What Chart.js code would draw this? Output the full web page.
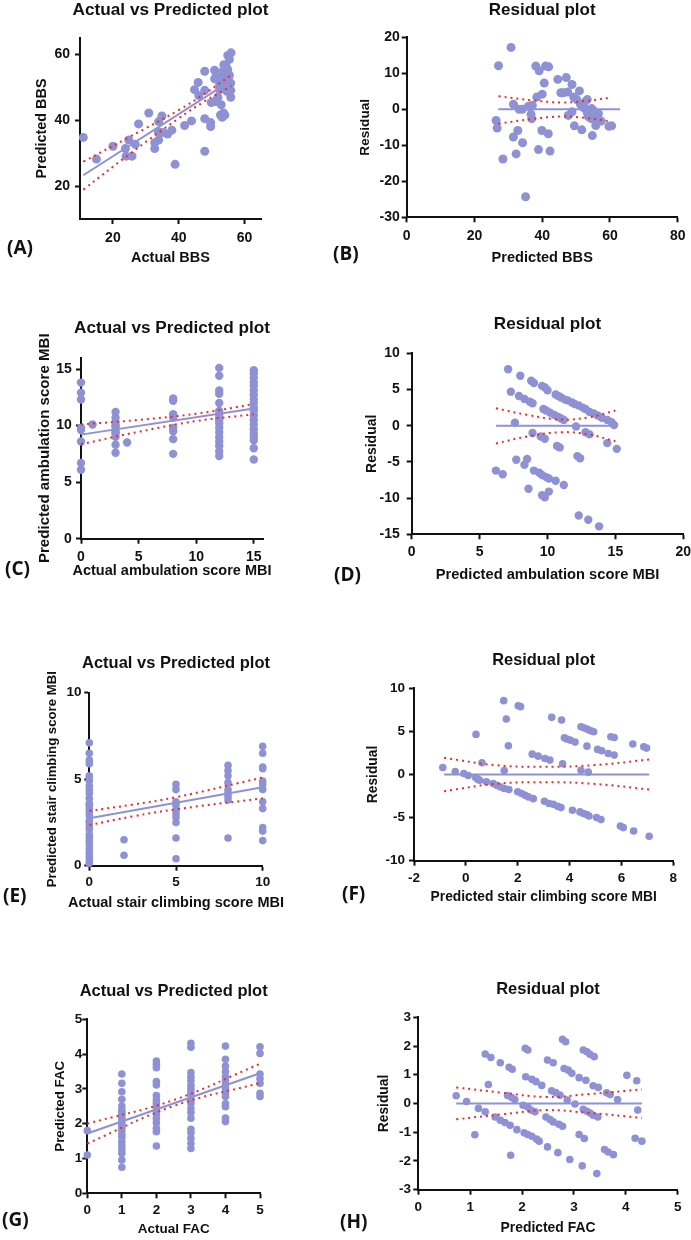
<!DOCTYPE html>
<html>
<head>
<meta charset="utf-8">
<script src="https://cdn.jsdelivr.net/npm/chart.js@4.4.0/dist/chart.umd.min.js"></script>
<style>
html, body { margin: 0; padding: 0; background: #fff; overflow: hidden; }
body { position: relative; width: 691px; height: 1240px; }
canvas { position: absolute; }
.lbl { position: absolute; font: 700 19px 'Open Sans', sans-serif; color: #111; line-height: 20px; white-space: nowrap; }
</style>
</head>
<body>
<canvas id="cA"></canvas>
<canvas id="cB"></canvas>
<canvas id="cC"></canvas>
<canvas id="cD"></canvas>
<canvas id="cE"></canvas>
<canvas id="cF"></canvas>
<canvas id="cG"></canvas>
<canvas id="cH"></canvas>
<div class="lbl" style="left:7px;top:237px">(A)</div>
<div class="lbl" style="left:333px;top:243px">(B)</div>
<div class="lbl" style="left:5px;top:558px">(C)</div>
<div class="lbl" style="left:334px;top:564px">(D)</div>
<div class="lbl" style="left:3px;top:885px">(E)</div>
<div class="lbl" style="left:342px;top:883px">(F)</div>
<div class="lbl" style="left:2px;top:1209px">(G)</div>
<div class="lbl" style="left:340px;top:1211px">(H)</div>
<script>
// ---- (A) actual vs predicted BBS ----
const bbsPoints = [
  [11, 34.8], [15, 28.2], [20, 32.1], [23.8, 31.4], [24, 29.1], [24.8, 34], [25.8, 29.1], [26.8, 32.7],
  [27.8, 38.9], [30.9, 42.2], [32.7, 33.2], [32.7, 31.4], [33.9, 34], [33.9, 39.6], [34.9, 41.3],
  [33.8, 36.5], [35.1, 36.3], [36.6, 35.8], [37.9, 37], [38.9, 26.6], [41.8, 38.4], [43.9, 39.8],
  [44.8, 49.3], [45.9, 51.5], [46.1, 47.5], [47.9, 54.9], [47.9, 49.1], [47.9, 40.5], [47.9, 30.6],
  [49.7, 39.3], [49.7, 38.1], [49.9, 45.4], [50.9, 55.2], [50.9, 52.6], [51.2, 45.7], [51.6, 46.2],
  [51.9, 47], [52.4, 50.8], [52.7, 41.6], [53.2, 40.9], [52.9, 44.7], [53.6, 42.2], [54, 41.6],
  [52.9, 52.9], [53.4, 54.9], [53.7, 56.9], [54.4, 56.4], [53.9, 49.8], [54.2, 51.8], [54.9, 55.4],
  [54.9, 59.7], [55.9, 60.5], [55.4, 53.6], [55.8, 51.3], [55.8, 49.1], [55.8, 47], [55.2, 50.5],
  [54.6, 48.8], [52.4, 49.3], [51.4, 53.4], [55.4, 58.5], [54.6, 53.2], [53.2, 51.5]
];
const bbsFitX = [11, 56];
const bbsFitY = [23.3, 52.1];
const bbsCiX = [11, 25, 40, 48, 56];
const bbsCiUpper = [27.4, 34.9, 43.1, 48.15, 53.8];
const bbsCiLower = [18.9, 29.7, 40.6, 45.85, 50.4];

// ---- (B) residuals BBS ----
const bbsResiduals = [
  [27.1, 12.1], [30.8, 17.2], [26.4, -3.1], [26.7, -5.2], [28.4, -13.8], [31.5, 1.4], [31.5, -7.7],
  [32.8, -5.9], [32.3, -12.4], [33.2, 0], [34.1, 0], [34.2, -9.3], [35.1, -24.3], [35.9, 0.8],
  [36.7, -1.4], [36.9, -2.6], [37.1, 1.1], [38.4, 3.4], [38.1, 12], [39.1, 10.7], [38.9, -11.2],
  [40, 4.2], [39.9, -5.9], [40.6, 7.3], [41, 12], [41.9, 11.8], [41.8, -6.8], [42.3, -11.6],
  [44.6, 8.3], [45.5, 4.6], [46.2, 4.6], [47.1, 8.8], [47.5, 4.8], [47.7, -1.7], [48.8, 6.9],
  [48.8, -0.7], [49.3, 3.4], [49.5, -4.6], [50.2, 2.7], [51, 5.1], [51.3, 1.4], [51.7, -5.7],
  [52.2, 0.5], [52.6, 2], [53.1, -0.3], [53.3, 2.7], [53.6, -2], [54.2, -0.7], [54.6, 0.2],
  [55.1, -0.3], [54.8, -7.3], [55.4, -1.7], [55.8, -2.6], [55.8, -4.5], [56.4, -2], [56.6, -3.1],
  [57.4, -3.3], [54.4, -2.6], [56.6, -1.2], [59.7, -4.7], [60.5, -4.6], [53.4, -1.2]
];
const bbsResFitX = [27, 63];
const bbsResFitY = [0, 0];
const bbsResCiX = [27.1, 36.9, 45.8, 52.6, 60.5];
const bbsResCiUpper = [3.6, 2.5, 1.9, 2.3, 3.3];
const bbsResCiLower = [-4, -2.7, -2.0, -2.4, -3.4];

// ---- (C) actual vs predicted ambulation score MBI ----
const ambActual = [0, 1, 3, 4, 8, 12, 15];
const ambPredicted = [
  [13.8, 12.9, 12.3, 9.8, 9.6, 8.6, 6.7, 6.1],
  [10.1],
  [11.2, 10.7, 10.3, 10.0, 9.9, 9.6, 9.4, 9.3, 9.0, 8.3, 7.6],
  [8.5],
  [12.4, 12.2, 11.0, 10.7, 9.8, 9.5, 8.8, 7.5],
  [15.1, 14.4, 13.1, 12.8, 12.0, 11.3, 11.0, 10.7, 10.5, 10.2, 9.8, 9.4, 9.0, 8.6, 8.2, 7.7, 7.3],
  [14.9, 14.6, 14.2, 13.8, 13.5, 13.1, 12.7, 12.3, 12.0, 11.6, 11.3, 10.9, 10.5, 10.1, 9.7, 9.3, 9.0, 8.7, 8.0, 7.0]
];
const ambFitX = [0, 15];
const ambFitY = [9.2, 11.5];
const ambCiX = [0, 5, 10, 15];
const ambCiUpper = [10.1, 10.5, 11.05, 11.9];
const ambCiLower = [8.35, 9.45, 10.4, 11.0];

// ---- (D) residuals ambulation ----
const ambResiduals = [
  [7.1, 7.8], [8.0, 6.9], [8.8, 6.2], [9.0, 5.9], [9.6, 5.5], [9.8, 5.3], [10.0, 4.9], [10.6, 4.3],
  [10.8, 4.1], [11.0, 3.9], [11.3, 3.6], [11.5, 3.5], [11.8, 3.2], [12.0, 3.0], [12.3, 2.8], [12.6, 2.5],
  [12.8, 2.3], [13.1, 1.9], [13.4, 1.7], [13.7, 1.4], [14.0, 1.1], [14.4, 0.8], [14.7, 0.5], [14.9, 0.1],
  [7.3, 4.7], [7.9, 4.1], [8.3, 3.7], [8.7, 3.3], [8.9, 3.1], [9.7, 2.3], [9.9, 2.1], [10.2, 1.8],
  [10.5, 1.5], [10.8, 1.2], [11.0, 1.0], [11.2, 0.8],
  [7.6, 0.4], [12.1, -0.1], [12.8, -0.9], [13.1, -1.2],
  [8.9, -1.0], [9.5, -1.5], [9.8, -1.8], [10.7, -2.8], [10.9, -3.0], [12.2, -4.2], [12.4, -4.5],
  [14.4, -2.4], [15.1, -3.2],
  [6.2, -6.2], [6.7, -6.7], [7.7, -4.7], [8.3, -5.4], [8.5, -4.6], [9.0, -6.2], [9.4, -6.5], [9.6, -6.8],
  [9.9, -7.1], [10.1, -7.3], [10.6, -7.6], [11.2, -8.2], [8.6, -8.7], [9.6, -9.6], [9.8, -9.9], [10.1, -9.1],
  [12.3, -12.4], [13.0, -13.0], [13.8, -13.9]
];
const ambResFitX = [6.2, 15.1];
const ambResFitY = [0, 0];
const ambResCiX = [6.2, 8.5, 11, 13, 15];
const ambResCiUpper = [2.4, 1.5, 0.85, 1.15, 2.1];
const ambResCiLower = [-2.45, -1.5, -0.9, -1.2, -2.15];

// ---- (E) actual vs predicted stair climbing score MBI ----
const stairActual = [0, 2, 5, 8, 10];
const stairPredicted = [
  [7.1, 6.5, 6.1, 5.9, 5.2, 5.1, 4.9, 4.6, 4.4, 4.2, 3.9, 3.6, 3.5, 3.3, 3.1, 2.9, 2.6, 2.5, 2.3, 2.1,
   1.8, 1.6, 1.4, 1.2, 0.95, 0.7, 0.5, 0.3, 0.14],
  [1.5, 0.6],
  [4.7, 4.4, 3.7, 3.5, 3.2, 3.0, 2.8, 2.5, 1.6, 0.4],
  [5.8, 5.5, 5.2, 4.8, 4.4, 4.2, 4.0, 3.8, 1.6],
  [6.9, 6.5, 5.7, 5.6, 4.9, 4.7, 4.4, 3.7, 3.3, 2.2, 2.0, 1.45]
];
const stairFitX = [0, 10];
const stairFitY = [2.74, 4.54];
const stairCiX = [0, 2.5, 5, 10];
const stairCiUpper = [3.17, 3.53, 3.96, 5.1];
const stairCiLower = [2.35, 2.85, 3.26, 3.9];

// ---- (F) residuals stair climbing ----
const stairResiduals = [
  [-0.89, 0.81], [-0.41, 0.35], [-0.08, 0.12], [0.09, -0.12], [0.38, -0.35], [0.45, -0.54], [0.53, -0.66],
  [0.39, 4.65], [0.62, 1.36], [0.79, -0.85], [1.05, -1.05], [1.19, -1.24], [1.32, -1.43], [1.48, -1.63],
  [1.46, 8.57], [1.48, 0.47], [1.56, 6.43], [1.64, 3.33], [1.66, -1.74], [2.0, -2.0], [2.02, 7.98],
  [2.11, 7.87], [2.15, -2.2], [2.28, -2.4], [2.41, -2.6], [2.56, 2.36], [2.6, -2.8], [2.79, 2.13],
  [3.03, -3.1], [3.05, 1.86], [3.21, -3.37], [3.24, 1.67], [3.31, 6.63], [3.37, -3.45], [3.54, -3.68],
  [3.67, -3.84], [3.69, 6.32], [3.73, 1.24], [3.8, 4.26], [3.89, 4.11], [4.02, 3.99], [4.21, 3.76],
  [4.11, -4.15], [4.4, -4.34], [4.53, -4.53], [4.66, -4.65], [4.75, -4.81], [4.44, 5.54], [4.57, 5.39],
  [4.7, 5.23], [4.82, 5.08], [4.93, 4.96], [4.44, 0.5], [4.72, 0.27], [4.67, 3.29], [5.08, 2.91],
  [5.24, 2.75], [5.49, 2.44], [5.72, 2.25], [5.04, -5.0], [5.21, -5.23], [5.59, 4.38], [5.72, 4.3],
  [5.96, -5.97], [6.07, -6.16], [6.47, -6.55], [6.44, 3.53], [6.86, 3.22], [6.97, 3.06], [7.07, -7.17]
];
const stairResFitX = [-0.84, 7.07];
const stairResFitY = [0, 0];
const stairResCiX = [-0.84, 1.12, 3.05, 4.98, 7.07];
const stairResCiUpper = [1.94, 1.09, 0.89, 1.09, 1.74];
const stairResCiLower = [-1.94, -1.09, -0.89, -1.09, -1.74];

// ---- (G) actual vs predicted FAC ----
const facActual = [0, 1, 2, 3, 4, 5];
const facPredicted = [
  [1.8, 1.1],
  [3.43, 3.16, 2.92, 2.7, 2.51, 2.39, 2.32, 2.24, 2.16, 2.06, 1.97, 1.9, 1.82, 1.7, 1.61, 1.48, 1.36,
   1.25, 1.15, 0.96, 0.75],
  [3.8, 3.7, 3.61, 3.21, 3.11, 2.81, 2.68, 2.59, 2.49, 2.39, 2.28, 2.16, 2.03, 1.87, 1.77, 1.36],
  [4.31, 4.2, 3.47, 3.35, 3.24, 3.11, 3.02, 2.92, 2.83, 2.7, 2.59, 2.44, 2.32, 2.16, 1.84, 1.74, 1.58, 1.44, 1.29],
  [4.23, 3.85, 3.66, 3.5, 3.35, 3.24, 3.13, 3.02, 2.89, 2.78, 2.57, 2.49, 2.16, 2.06],
  [4.21, 4.02, 3.43, 3.3, 3.16, 2.87, 2.78]
];
const facFitX = [0, 5];
const facFitY = [1.72, 3.45];
const facCiX = [0, 2.5, 5];
const facCiUpper = [2.0, 2.68, 3.72];
const facCiLower = [1.43, 2.51, 3.17];

// ---- (H) residuals FAC ----
const facResiduals = [
  [0.73, 0.27], [0.93, 0.07], [1.09, -1.09], [1.16, -0.17], [1.29, 1.72], [1.29, -0.29], [1.35, 0.66],
  [1.4, 1.6], [1.48, -0.47], [1.58, 1.42], [1.58, -0.58], [1.67, -0.66], [1.72, 0.28], [1.75, 1.26],
  [1.77, -0.76], [1.78, -1.8], [1.8, 0.21], [1.81, 1.19], [1.86, 0.14], [1.9, -0.91], [2.02, -0.06],
  [2.06, 1.92], [2.11, 1.86], [2.07, 0.93], [2.04, -1.02], [2.11, -0.12], [2.11, -1.08], [2.19, 0.84],
  [2.17, -0.23], [2.19, -1.14], [2.25, -0.29], [2.27, 0.76], [2.28, -1.24], [2.33, -1.31], [2.38, 0.63],
  [2.46, -0.47], [2.49, 1.51], [2.49, -1.51], [2.54, -0.56], [2.57, 0.44], [2.6, 1.42], [2.6, -0.64],
  [2.65, 0.38], [2.69, -1.71], [2.71, -0.72], [2.73, 0.29], [2.78, 2.23], [2.78, -0.79], [2.84, 2.15],
  [2.81, 1.22], [2.87, 0.12], [2.89, 1.16], [2.92, -1.95], [2.96, 1.05], [3.02, -0.02], [3.1, 0.9],
  [3.1, -1.08], [3.18, 1.86], [3.16, -2.17], [3.2, -1.22], [3.18, -0.2], [3.25, 1.8], [3.23, 0.81],
  [3.25, -0.27], [3.31, 1.71], [3.31, -0.33], [3.37, -0.41], [3.37, 0.62], [3.39, 1.63], [3.44, -2.44],
  [3.46, -0.47], [3.47, 0.56], [3.63, 0.37], [3.59, -1.6], [3.7, 0.31], [3.66, -1.69], [3.76, -1.78],
  [3.84, 0.14], [4.02, 0.98], [4.18, -1.21], [4.21, 0.79], [4.23, -0.23], [4.31, -1.31]
];
const facResFitX = [0.73, 4.31];
const facResFitY = [0, 0];
const facResCiX = [0.73, 1.6, 2.45, 3.3, 4.31];
const facResCiUpper = [0.56, 0.38, 0.23, 0.33, 0.49];
const facResCiLower = [-0.55, -0.38, -0.23, -0.33, -0.5];

const FONT = "'Liberation Sans', Arial, sans-serif";
const DOT_COLOR = '#8e92d5';
const CI_COLOR = '#ee2a2a';
const INK = '#111';

function columnsToPoints(xs, cols) {
    const pts = [];
    xs.forEach((x, i) => cols[i].forEach(y => pts.push({ x: x, y: y })));
    return pts;
}
function pairsToPoints(pairs) {
    return pairs.map(p => ({ x: p[0], y: p[1] }));
}
function zipPoints(xs, ys) {
    return xs.map((x, i) => ({ x: x, y: ys[i] }));
}

// plot title and x-axis title, centred on the plot area and never squeezed
const panelText = {
    id: 'panelText',
    afterDraw(chart, args, opts) {
        const { ctx, chartArea } = chart;
        const mid = (chartArea.left + chartArea.right) / 2;
        ctx.save();
        ctx.fillStyle = INK;
        ctx.textAlign = 'center';
        ctx.textBaseline = 'middle';
        ctx.font = 'bold ' + opts.titleSize + 'px ' + FONT;
        ctx.fillText(opts.title, mid, opts.titleY);
        ctx.font = 'bold ' + opts.xSize + 'px ' + FONT;
        ctx.fillText(opts.xTitle, mid, opts.xTitleY);
        ctx.restore();
    }
};

function drawPanel(id, geo, axes, text, points, fit, ci) {
    const [cx, cy, cw, ch] = geo.box;
    const [L, T, R, B] = geo.area;
    const [titleSize, xSize, ySize, tickSize] = geo.fs;
    const canvas = document.getElementById(id);
    canvas.width = cw;
    canvas.height = ch;
    canvas.style.left = cx + 'px';
    canvas.style.top = cy + 'px';

    const yW = L - cx;
    const xH = geo.xTitleY + xSize * 0.6 - B;
    const tickFont = { family: FONT, size: tickSize, weight: 'bold' };
    const tickGrid = { drawOnChartArea: false, drawTicks: true, tickLength: 5, tickWidth: 2, tickColor: INK };

    new Chart(canvas.getContext('2d'), {
        type: 'scatter',
        data: {
            datasets: [
                {
                    data: zipPoints(ci.x, ci.upper), showLine: true, pointRadius: 0,
                    borderColor: CI_COLOR, borderWidth: 2, borderDash: [2, 4], tension: 0.4, clip: false
                },
                {
                    data: zipPoints(ci.x, ci.lower), showLine: true, pointRadius: 0,
                    borderColor: CI_COLOR, borderWidth: 2, borderDash: [2, 4], tension: 0.4, clip: false
                },
                {
                    data: zipPoints(fit.x, fit.y), showLine: true, pointRadius: 0,
                    borderColor: DOT_COLOR, borderWidth: 2, clip: false
                },
                {
                    data: points, pointRadius: geo.r, pointBackgroundColor: DOT_COLOR,
                    pointBorderWidth: 0, borderColor: DOT_COLOR, clip: false
                }
            ]
        },
        plugins: [panelText],
        options: {
            responsive: false,
            animation: false,
            events: [],
            layout: { padding: { left: 0, top: T - cy, right: cx + cw - R, bottom: cy + ch - B - xH } },
            plugins: {
                legend: { display: false },
                tooltip: { enabled: false },
                panelText: {
                    title: text.title, titleSize: titleSize, titleY: geo.titleY - cy,
                    xTitle: text.x, xSize: xSize, xTitleY: geo.xTitleY - cy
                }
            },
            scales: {
                x: {
                    type: 'linear', min: axes.xMin, max: axes.xMax,
                    afterBuildTicks: s => { s.ticks = axes.xTicks.map(v => ({ value: v })); },
                    afterFit: s => { s.height = xH; },
                    grid: tickGrid,
                    border: { display: true, color: INK, width: 2 },
                    ticks: {
                        color: INK, autoSkip: false, maxRotation: 0, font: tickFont,
                        padding: geo.xTickY - B - 5 - tickSize * 0.6
                    },
                    title: { display: false }
                },
                y: {
                    type: 'linear', min: axes.yMin, max: axes.yMax,
                    afterBuildTicks: s => { s.ticks = axes.yTicks.map(v => ({ value: v })); },
                    afterFit: s => { s.width = yW; },
                    grid: tickGrid,
                    border: { display: true, color: INK, width: 2 },
                    ticks: { color: INK, autoSkip: false, font: tickFont, padding: Math.max(geo.yGap - 5, 0) },
                    title: {
                        display: true, text: text.y, color: INK,
                        font: { family: FONT, size: ySize, weight: 'bold' },
                        padding: { top: geo.yTitleX - cx - ySize * 0.6, bottom: 0 }
                    }
                }
            }
        }
    });
}

drawPanel('cA',
    { box: [0, 0, 345, 280], area: [80, 38, 261, 219], titleY: 10.5, xTickY: 238.3, xTitleY: 258.3, yTitleX: 42, yGap: 10, r: 4.5, fs: [17.2, 14.5, 14.4, 14] },
    { xMin: 10, xMax: 65, xTicks: [20, 40, 60], yMin: 10, yMax: 65, yTicks: [20, 40, 60] },
    { title: 'Actual vs Predicted plot', x: 'Actual BBS', y: 'Predicted BBS' },
    pairsToPoints(bbsPoints),
    { x: bbsFitX, y: bbsFitY },
    { x: bbsCiX, upper: bbsCiUpper, lower: bbsCiLower });

drawPanel('cB',
    { box: [345, 0, 360, 280], area: [406.7, 37.3, 677.7, 217.3], titleY: 10.3, xTickY: 235.7, xTitleY: 257.7, yTitleX: 365.7, yGap: 7, r: 4.5, fs: [17, 14.6, 13.6, 14] },
    { xMin: 0, xMax: 80, xTicks: [0, 20, 40, 60, 80], yMin: -30, yMax: 20, yTicks: [-30, -20, -10, 0, 10, 20] },
    { title: 'Residual plot', x: 'Predicted BBS', y: 'Residual' },
    pairsToPoints(bbsResiduals),
    { x: bbsResFitX, y: bbsResFitY },
    { x: bbsResCiX, upper: bbsResCiUpper, lower: bbsResCiLower });

drawPanel('cC',
    { box: [0, 295, 345, 300], area: [81, 357.7, 263, 538.7], titleY: 328, xTickY: 557.3, xTitleY: 570.7, yTitleX: 45, yGap: 9.3, r: 4.2, fs: [17.2, 14.5, 15.1, 14] },
    { xMin: 0, xMax: 15.8, xTicks: [0, 5, 10, 15], yMin: 0, yMax: 16, yTicks: [0, 5, 10, 15] },
    { title: 'Actual vs Predicted plot', x: 'Actual ambulation score MBI', y: 'Predicted ambulation score MBI' },
    columnsToPoints(ambActual, ambPredicted),
    { x: ambFitX, y: ambFitY },
    { x: ambCiX, upper: ambCiUpper, lower: ambCiLower });

drawPanel('cD',
    { box: [345, 295, 360, 300], area: [411.7, 353.3, 683.3, 534.3], titleY: 324, xTickY: 551.7, xTitleY: 575, yTitleX: 371.7, yGap: 12, r: 4.2, fs: [17.1, 14.7, 14, 14] },
    { xMin: 0, xMax: 20, xTicks: [0, 5, 10, 15, 20], yMin: -15, yMax: 10, yTicks: [-15, -10, -5, 0, 5, 10] },
    { title: 'Residual plot', x: 'Predicted ambulation score MBI', y: 'Residual' },
    pairsToPoints(ambResiduals),
    { x: ambResFitX, y: ambResFitY },
    { x: ambResCiX, upper: ambResCiUpper, lower: ambResCiLower });

drawPanel('cE',
    { box: [0, 610, 345, 305], area: [89.3, 692.7, 262.7, 865.7], titleY: 663.3, xTickY: 882.7, xTitleY: 903.3, yTitleX: 52.7, yGap: 7.7, r: 3.8, fs: [16.5, 14.5, 13.2, 13.5] },
    { xMin: 0, xMax: 10, xTicks: [0, 5, 10], yMin: 0, yMax: 10, yTicks: [0, 5, 10] },
    { title: 'Actual vs Predicted plot', x: 'Actual stair climbing score MBI', y: 'Predicted stair climbing score MBI' },
    columnsToPoints(stairActual, stairPredicted),
    { x: stairFitX, y: stairFitY },
    { x: stairCiX, upper: stairCiUpper, lower: stairCiLower });

drawPanel('cF',
    { box: [345, 610, 360, 305], area: [414, 688.3, 673.3, 860.7], titleY: 660, xTickY: 878.3, xTitleY: 897.3, yTitleX: 373.3, yGap: 9, r: 3.8, fs: [16.4, 13.8, 13.8, 13.5] },
    { xMin: -2, xMax: 8, xTicks: [-2, 0, 2, 4, 6, 8], yMin: -10, yMax: 10, yTicks: [-10, -5, 0, 5, 10] },
    { title: 'Residual plot', x: 'Predicted stair climbing score MBI', y: 'Residual' },
    pairsToPoints(stairResiduals),
    { x: stairResFitX, y: stairResFitY },
    { x: stairResCiX, upper: stairResCiUpper, lower: stairResCiLower });

drawPanel('cG',
    { box: [0, 930, 345, 310], area: [87.3, 1019.3, 260, 1193.3], titleY: 991.7, xTickY: 1210, xTitleY: 1229, yTitleX: 60.7, yGap: 5, r: 3.8, fs: [16.5, 13.5, 13.3, 13.5] },
    { xMin: 0, xMax: 5, xTicks: [0, 1, 2, 3, 4, 5], yMin: 0, yMax: 5, yTicks: [0, 1, 2, 3, 4, 5] },
    { title: 'Actual vs Predicted plot', x: 'Actual FAC', y: 'Predicted FAC' },
    columnsToPoints(facActual, facPredicted),
    { x: facFitX, y: facFitY },
    { x: facCiX, upper: facCiUpper, lower: facCiLower });

drawPanel('cH',
    { box: [345, 930, 360, 310], area: [418.3, 1017.3, 677.7, 1189.7], titleY: 989.3, xTickY: 1207.3, xTitleY: 1227.7, yTitleX: 384.3, yGap: 7.3, r: 3.8, fs: [16.5, 13.9, 13.8, 13.5] },
    { xMin: 0, xMax: 5, xTicks: [0, 1, 2, 3, 4, 5], yMin: -3, yMax: 3, yTicks: [-3, -2, -1, 0, 1, 2, 3] },
    { title: 'Residual plot', x: 'Predicted FAC', y: 'Residual' },
    pairsToPoints(facResiduals),
    { x: facResFitX, y: facResFitY },
    { x: facResCiX, upper: facResCiUpper, lower: facResCiLower });
</script>
</body>
</html>
